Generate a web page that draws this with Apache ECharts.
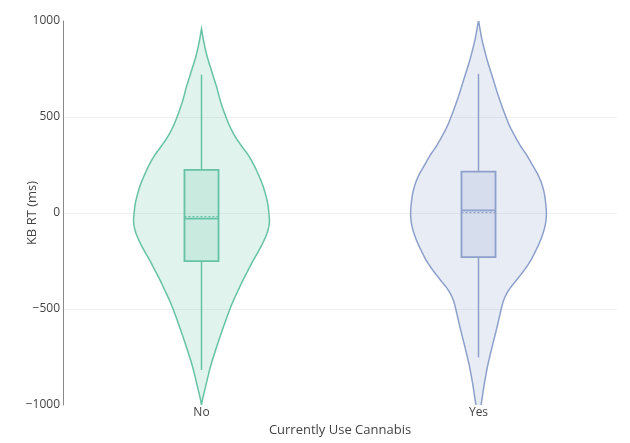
<!DOCTYPE html>
<html>
<head>
    <meta charset="utf-8">
    <title>KB RT by cannabis use</title>
    <script src="https://cdn.jsdelivr.net/npm/echarts@6/dist/echarts.min.js"></script>
    <style>
        html, body { margin: 0; padding: 0; background: #fff; }
        #chart-container { width: 630px; height: 443px; }
    </style>
</head>
<body>
<div id="chart-container"></div>
<script>
    const chartDom = document.getElementById('chart-container');
    const myChart = echarts.init(chartDom);

    // categories and colours
    const categories = ['No', 'Yes'];
    const groupColors = ['#66c2a5', '#8da0cb'];

    // violin outline: RT level (ms) and density (arbitrary units)
    const noLevels  = [960, 900, 850, 800, 750, 700, 650, 600, 550, 500, 450, 400, 350, 300, 250, 200, 150, 100, 50, 0,
                       -50, -100, -150, -200, -250, -300, -350, -400, -450, -500, -600, -700, -800, -900, -960, -1000];
    const noDensity = [0, 2, 4, 6.5, 9.5, 12.5, 15.5, 18, 21, 24.5, 28.5, 33.5, 40, 47, 52.5, 57, 61, 64, 66.3, 67.5,
                       68, 66, 62, 57, 51.5, 46.5, 41.5, 37, 32.5, 28.5, 21.5, 15, 9, 4.3, 1.5, 0];

    const yesLevels  = [1004, 950, 900, 800, 700, 600, 500, 450, 400, 350, 300, 250, 200, 150, 100, 50, 0,
                        -50, -100, -150, -200, -250, -300, -350, -400, -450, -500, -600, -700, -800, -900, -1000, -1040];
    const yesDensity = [0, 1.8, 3.6, 8.5, 14.5, 20.5, 27.5, 31.5, 36.5, 42, 48.5, 54, 59.5, 63.5, 66, 67.3, 68,
                        67.3, 65, 61.5, 57, 52, 45.5, 38, 30.5, 25.5, 22.8, 18.3, 13.5, 9, 5.5, 2.5, 0];

    // box stats [lowerWhisker, q1, median, q3, upperWhisker, mean]
    const noBox  = [-817, -251, -29, 225, 720, -19];
    const yesBox = [-752, -230, 14, 216, 725, 2];

    const yTicks = [-1000, -500, 0, 500, 1000];

    const groups = [
        { levels: noLevels, dens: noDensity, box: noBox },
        { levels: yesLevels, dens: yesDensity, box: yesBox }
    ];

    // Catmull-Rom through pixel points, for a smooth outline
    function spline(pts, steps) {
        const out = [];
        for (let i = 0; i < pts.length - 1; i++) {
            const p0 = pts[Math.max(i - 1, 0)], p1 = pts[i], p2 = pts[i + 1], p3 = pts[Math.min(i + 2, pts.length - 1)];
            for (let s = 0; s < steps; s++) {
                const t = s / steps, t2 = t * t, t3 = t2 * t;
                const f = k => 0.5 * ((2 * p1[k]) + (-p0[k] + p2[k]) * t +
                    (2 * p0[k] - 5 * p1[k] + 4 * p2[k] - p3[k]) * t2 +
                    (-p0[k] + 3 * p1[k] - 3 * p2[k] + p3[k]) * t3);
                out.push([f(0), f(1)]);
            }
        }
        out.push(pts[pts.length - 1]);
        return out;
    }

    function renderViolin(params, api) {
        const idx = api.value(0);
        const g = groups[idx];
        const color = groupColors[idx];
        const band = api.size([1, 0])[0];
        const cx = api.coord([idx, 0])[0];
        const maxD = Math.max.apply(null, g.dens);
        const halfMax = band * 0.245;
        const yy = v => api.coord([idx, v])[1];

        const half = spline(g.levels.map((l, i) => [g.dens[i] / maxD * halfMax, yy(l)]), 10);
        const right = half.map(p => [cx + Math.max(p[0], 0), p[1]]);
        const left = half.slice().reverse().map(p => [cx - Math.max(p[0], 0), p[1]]);
        const pts = right.concat(left);

        const b = g.box;
        const bw = band * 0.0615;
        const fill = echarts.color.modifyAlpha(color, 0.2);
        return {
            type: 'group',
            children: [
                {
                    type: 'polygon',
                    shape: { points: pts },
                    style: { fill: fill, stroke: color, lineWidth: 1.5 }
                },
                {
                    type: 'line',
                    shape: { x1: cx, y1: yy(b[3]), x2: cx, y2: yy(b[4]) },
                    style: { stroke: color, lineWidth: 1.5 }
                },
                {
                    type: 'line',
                    shape: { x1: cx, y1: yy(b[1]), x2: cx, y2: yy(b[0]) },
                    style: { stroke: color, lineWidth: 1.5 }
                },
                {
                    type: 'rect',
                    shape: { x: cx - bw, y: yy(b[3]), width: bw * 2, height: yy(b[1]) - yy(b[3]) },
                    style: { fill: fill, stroke: color, lineWidth: 1.8 }
                },
                {
                    type: 'line',
                    shape: { x1: cx - bw, y1: yy(b[2]), x2: cx + bw, y2: yy(b[2]) },
                    style: { stroke: color, lineWidth: 1.8 }
                },
                {
                    type: 'line',
                    shape: { x1: cx - bw, y1: yy(b[5]), x2: cx + bw, y2: yy(b[5]) },
                    style: { stroke: color, lineWidth: 1.3, lineDash: [2, 2] }
                }
            ]
        };
    }

    const option = {
        animation: false,
        textStyle: { fontFamily: 'Open Sans' },
        grid: { left: 63, right: 13, top: 21, bottom: 38 },
        xAxis: {
            type: 'category',
            data: categories,
            name: 'Currently Use Cannabis',
            nameLocation: 'middle',
            nameGap: 17,
            nameTextStyle: { color: '#444', fontSize: 13 },
            axisLine: { show: false },
            axisTick: { show: false },
            axisLabel: { color: '#444', fontSize: 12, margin: 2 },
            splitLine: { show: false }
        },
        yAxis: {
            type: 'value',
            min: yTicks[0],
            max: yTicks[yTicks.length - 1],
            interval: 500,
            name: 'KB RT (ms)',
            nameLocation: 'middle',
            nameGap: 24,
            nameMoveOverlap: false,
            nameTextStyle: { color: '#444', fontSize: 13 },
            axisLine: { show: true, lineStyle: { color: '#888', width: 1 } },
            axisTick: { show: false },
            axisLabel: {
                color: '#444',
                fontSize: 12,
                margin: 3,
                formatter: v => String(v).replace('-', '\u2212')
            },
            splitLine: {
                show: true,
                showMinLine: false,
                showMaxLine: false,
                lineStyle: { color: '#f0f0f0', width: 1 }
            }
        },
        series: categories.map((c, i) => ({
            name: c,
            type: 'custom',
            clip: true,
            renderItem: renderViolin,
            encode: { x: 0 },
            data: [[i]]
        }))
    };

    myChart.setOption(option);
</script>
</body>
</html>
